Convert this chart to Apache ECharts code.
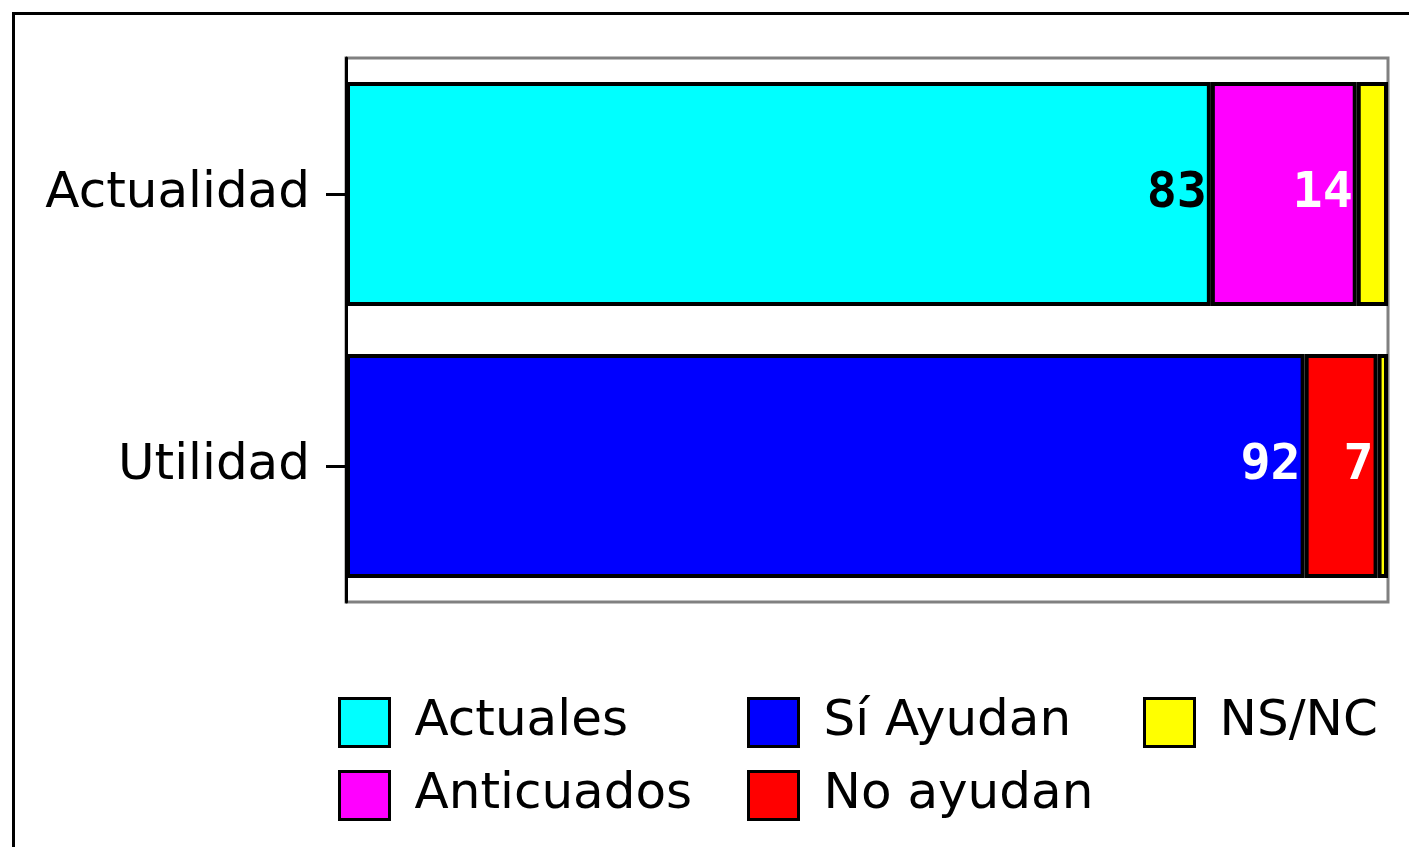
<!DOCTYPE html>
<html>
<head>
<meta charset="utf-8">
<script src="https://cdn.jsdelivr.net/npm/echarts@6/dist/echarts.min.js"></script>
<style>
  html, body { margin: 0; padding: 0; background: #fff; }
  #chart { width: 1409px; height: 847px; }
</style>
</head>
<body>
<div id="chart"></div>
<script>
  // categories, top to bottom
  const categories = ['Actualidad', 'Utilidad']
  // one value per category ('-' = not in that bar)
  const actuales = [83, '-']
  const siAyudan = ['-', 92]
  const anticuados = [14, '-']
  const noAyudan = ['-', 7]
  const nsnc = [3, 1]

  const chart = echarts.init(document.getElementById('chart'))

  const labelFont = {
    show: true,
    position: 'insideRight',
    distance: 4,
    fontFamily: 'DejaVu Sans Mono',
    fontWeight: 'bold',
    fontSize: 50
  }

  function bar (name, data, color, labelColor) {
    return {
      name: name,
      type: 'bar',
      stack: 'total',
      barWidth: 224,
      data: data,
      itemStyle: { color: color, borderColor: '#000', borderWidth: 4 },
      label: labelColor ? Object.assign({ color: labelColor }, labelFont) : { show: false }
    }
  }

  const legendBase = {
    orient: 'vertical',
    padding: 0,
    itemWidth: 50,
    itemHeight: 48,
    itemGap: 22,
    icon: 'rect',
    selectedMode: false,
    itemStyle: { borderColor: '#000', borderWidth: 3 },
    textStyle: {
      fontFamily: 'DejaVu Sans',
      fontSize: 50,
      color: '#000',
      padding: [0, 0, 0, 20]
    }
  }

  chart.setOption({
    animation: false,
    backgroundColor: '#fff',
    graphic: [{
      type: 'rect',
      left: 11,
      top: 11,
      shape: { width: 1420, height: 860 },
      style: { fill: 'none', stroke: '#000', lineWidth: 3 }
    }],
    grid: {
      left: 346,
      top: 58,
      right: 21,
      bottom: 245,
      show: true,
      borderColor: '#808080',
      borderWidth: 3
    },
    legend: [
      Object.assign({ left: 338, top: 697, data: ['Actuales', 'Anticuados'] }, legendBase),
      Object.assign({ left: 747, top: 697, data: ['Sí Ayudan', 'No ayudan'] }, legendBase),
      Object.assign({ left: 1143, top: 697, data: ['NS/NC'] }, legendBase)
    ],
    xAxis: {
      type: 'value',
      min: 0,
      max: 100,
      show: false
    },
    yAxis: {
      type: 'category',
      inverse: true,
      data: categories,
      axisLine: { show: true, lineStyle: { color: '#000', width: 3 } },
      axisTick: { show: true, length: 20, alignWithLabel: true, lineStyle: { color: '#000', width: 3 } },
      axisLabel: {
        margin: 36,
        fontFamily: 'DejaVu Sans',
        fontSize: 50,
        color: '#000'
      }
    },
    series: [
      bar('Actuales', actuales, '#00FFFF', '#000'),
      bar('Sí Ayudan', siAyudan, '#0000FF', '#fff'),
      bar('Anticuados', anticuados, '#FF00FF', '#fff'),
      bar('No ayudan', noAyudan, '#FF0000', '#fff'),
      bar('NS/NC', nsnc, '#FFFF00', null)
    ]
  })
</script>
</body>
</html>
